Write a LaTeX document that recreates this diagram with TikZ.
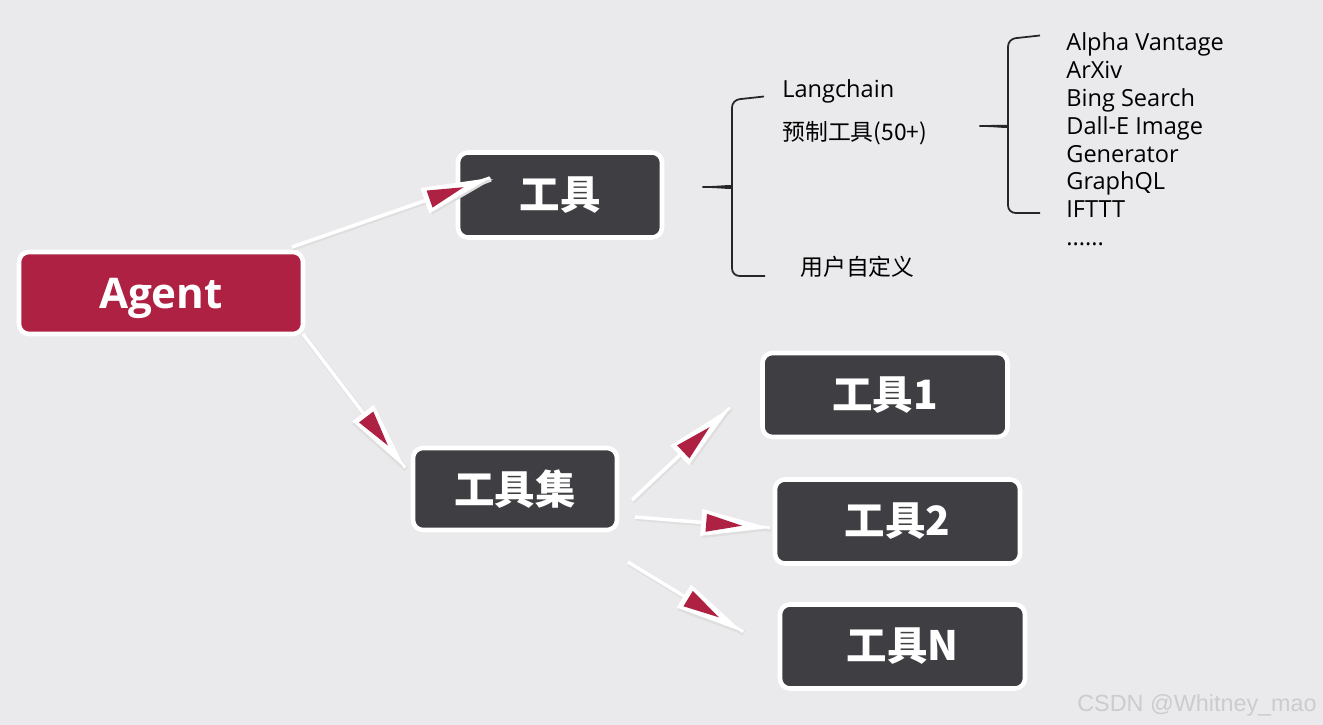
\documentclass[tikz,border=0pt]{standalone}
\usepackage{fontspec}
\setmainfont{Open Sans}
\newfontfamily\cjk{Noto Sans CJK SC}
\newfontfamily\wmfont{Liberation Sans}
\usepackage{tikz}
\usetikzlibrary{arrows.meta,positioning,decorations.markings,shadows}
\definecolor{bggray}{RGB}{234,234,236}
\definecolor{agentred}{RGB}{175,33,66}
\definecolor{boxdark}{RGB}{63,62,66}
\definecolor{wmgray}{RGB}{204,204,208}
\newcommand\moredots{......}
\tikzset{
  basebox/.style={draw=white, line width=2.6pt, rounded corners=2mm, text=white,
                  inner sep=0pt, outer sep=0pt,
                  drop shadow={shadow xshift=0.6pt, shadow yshift=-1.2pt, opacity=0.22}},
  agentbox/.style={basebox, fill=agentred, minimum width=5.68cm, minimum height=1.64cm,
                   text depth=0pt, font=\fontsize{24}{28}\selectfont\bfseries},
  toolbox/.style={basebox, fill=boxdark, minimum height=1.68cm,
                  font=\cjk\fontsize{23}{27}\selectfont\bfseries},
  link/.style={draw=white, line width=2pt,
               preaction={draw=black!13, line width=2.8pt,
                          transform canvas={shift={(0.5pt,-0.7pt)}}},
               postaction={decorate},
               decoration={markings, mark=at position 1 with {
                 \fill[black!13] (0.05,-0.04) -- (-1.33,0.23) -- (-1.33,-0.31) -- cycle;
                 \fill[white] (0,0) -- (-1.38,0.27) -- (-1.38,-0.27) -- cycle;
                 \fill[agentred] (-0.56,0) -- (-1.28,0.18) -- (-1.28,-0.18) -- cycle;}}},
  lbl/.style={font=\fontsize{13.4}{16}\selectfont, anchor=base west, inner sep=0pt},
  cjklbl/.style={lbl, font=\cjk\fontsize{13}{15}\selectfont},
  bracket/.style={draw=black!85, line width=1pt, rounded corners=1.5mm},
}

\begin{document}
\begin{tikzpicture}
  \fill[bggray] (0,0) rectangle (26.46,-14.5);
  \useasboundingbox (0,0) rectangle (26.46,-14.5);

  % boxes
  \node[agentbox] (agent) at (3.22,-5.86) {Agent};
  \node[toolbox, minimum width=4.08cm, minimum height=1.7cm,
        above right=0.29cm and 3.1cm of agent] (tool) {工具};
  \node[toolbox, minimum width=4.08cm, minimum height=1.64cm,
        below right=2.28cm and 2.2cm of agent] (toolset) {工具集};
  \node[toolbox, minimum width=4.9cm,
        above right=0.22cm and 2.91cm of toolset] (tool1) {工具1};
  \node[toolbox, minimum width=4.9cm, below=0.85cm of tool1, xshift=2.5mm] (tool2) {工具2};
  \node[toolbox, minimum width=4.9cm, below=0.82cm of tool2, xshift=1mm] (tooln) {工具N};

  % connectors
  \draw[link] ([shift={(-0.22,0.1)}]agent.north east) -- ([shift={(0.64,0.34)}]tool.west);
  \draw[link] (agent.south east) -- ([shift={(-0.16,-0.4)}]toolset.north west);
  \draw[link] ([shift={(0.3,-0.22)}]toolset.east) -- ([shift={(-0.65,-0.26)}]tool1.west);
  \draw[link] ([shift={(0.36,-0.56)}]toolset.east) -- ([shift={(-0.1,-0.13)}]tool2.west);
  \draw[link] ([shift={(0.22,-0.64)}]toolset.south east) -- ([shift={(-0.74,0.29)}]tooln.west);

  % tool sources
  \draw[bracket] (15.28,-1.93) -- (14.64,-2.0) -- (14.64,-3.58)
     .. controls (14.64,-3.7) and (14.4,-3.74) .. (13.96,-3.74)
     .. controls (14.4,-3.74) and (14.64,-3.78) .. (14.64,-3.9)
     -- (14.64,-5.52) -- (15.3,-5.52);
  \node[lbl] (langchain) at (15.64,-1.96) {Langchain};
  \node[cjklbl] (prebuilt) at (15.64,-2.82) {预制工具(50+)};
  \node[cjklbl] (custom) at (16.0,-5.52) {用户自定义};

  % prebuilt list
  \draw[bracket] (20.8,-0.71) -- (20.16,-0.78) -- (20.16,-2.38)
     .. controls (20.16,-2.5) and (19.92,-2.52) .. (19.5,-2.52)
     .. controls (19.92,-2.52) and (20.16,-2.56) .. (20.16,-2.68)
     -- (20.16,-4.26) -- (20.8,-4.26);
  \foreach \item [count=\i] in {Alpha Vantage, ArXiv, Bing Search, Dall-E Image,
                                Generator, GraphQL, IFTTT, \moredots}
    \node[lbl] (lib\i) at (21.32,{-1.02-0.556*(\i-1)}) {\item};

  \node[anchor=base west, inner sep=0pt, text=wmgray,
        font=\wmfont\fontsize{13.3}{16}\selectfont] (wm) at (21.54,-14.22) {CSDN @Whitney\_mao};
\end{tikzpicture}
\end{document}
